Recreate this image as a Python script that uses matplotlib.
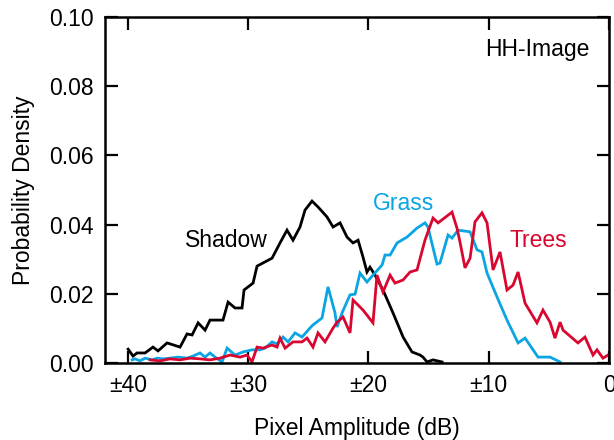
import matplotlib
matplotlib.use("Agg")
import matplotlib.pyplot as plt

plt.rcParams['font.family'] = ['Liberation Sans', 'DejaVu Sans']

shadow_x = [-39.98, -39.57, -39.24, -38.57, -37.91, -37.49, -36.74, -35.66, -35.08, -34.66,
            -34.16, -33.58, -33.17, -32.09, -31.67, -31.09, -30.51, -30.34, -29.59, -29.26,
            -28.01, -27.35, -26.77, -26.27, -25.69, -25.27, -24.69, -24.19, -23.44, -22.94,
            -22.36, -21.78, -21.28, -20.86, -20.45, -20.12, -19.87, -19.45, -18.79, -17.96,
            -17.12, -16.38, -15.71, -15.46, -15.13, -14.63, -13.88]
shadow_y = [0.0040, 0.0020, 0.0029, 0.0029, 0.0046, 0.0035, 0.0058, 0.0046, 0.0084, 0.0081,
            0.0116, 0.0095, 0.0124, 0.0124, 0.0176, 0.0159, 0.0159, 0.0211, 0.0231, 0.0280,
            0.0303, 0.0347, 0.0384, 0.0355, 0.0393, 0.0442, 0.0468, 0.0451, 0.0422, 0.0393,
            0.0405, 0.0364, 0.0347, 0.0355, 0.0306, 0.0263, 0.0277, 0.0254, 0.0211, 0.0145,
            0.0075, 0.0032, 0.0023, 0.0017, 0.0003, 0.0009, 0.0003]

grass_x = [-39.65, -39.40, -38.99, -38.57, -37.99, -37.57, -37.07, -36.49, -35.83, -35.08,
           -34.58, -34.00, -33.58, -33.17, -32.75, -32.17, -31.75, -31.09, -30.42, -29.68,
           -29.01, -28.60, -28.01, -27.60, -27.10, -26.68, -26.10, -25.52, -24.86, -24.61,
           -23.86, -23.36, -22.78, -22.61, -22.19, -21.53, -21.11, -20.70, -20.12, -19.62,
           -18.87, -18.62, -18.20, -17.62, -16.79, -15.96, -15.30, -15.05, -14.30, -14.05,
           -13.38, -13.05, -12.55, -12.14, -11.55, -10.97, -10.56, -10.14, -9.31, -8.48,
           -7.56, -6.98, -5.90, -4.90, -4.07]
grass_y = [0.0009, 0.0012, 0.0006, 0.0014, 0.0009, 0.0014, 0.0012, 0.0014, 0.0017, 0.0014,
           0.0020, 0.0029, 0.0017, 0.0029, 0.0017, 0.0003, 0.0043, 0.0023, 0.0032, 0.0038,
           0.0038, 0.0043, 0.0061, 0.0055, 0.0075, 0.0061, 0.0087, 0.0075, 0.0101, 0.0110,
           0.0130, 0.0220, 0.0145, 0.0104, 0.0145, 0.0197, 0.0199, 0.0260, 0.0234, 0.0254,
           0.0283, 0.0312, 0.0312, 0.0347, 0.0364, 0.0390, 0.0405, 0.0393, 0.0286, 0.0289,
           0.0370, 0.0361, 0.0384, 0.0382, 0.0379, 0.0327, 0.0321, 0.0260, 0.0191, 0.0124,
           0.0058, 0.0072, 0.0017, 0.0017, 0.0003]

trees_x = [-38.15, -37.32, -36.49, -35.66, -34.83, -34.00, -33.17, -32.34, -31.50, -30.67,
           -30.09, -29.68, -29.26, -28.76, -28.01, -27.60, -27.35, -26.93, -26.27, -25.52,
           -25.10, -24.61, -24.19, -23.61, -22.94, -22.61, -22.11, -21.53, -21.28, -20.45,
           -19.62, -19.29, -18.79, -18.20, -17.79, -17.12, -16.54, -15.96, -15.30, -14.63,
           -14.21, -13.05, -12.64, -12.39, -11.97, -11.55, -11.14, -10.56, -10.14, -9.64,
           -9.06, -8.48, -7.98, -7.56, -6.98, -5.99, -5.49, -4.90, -4.49, -4.07,
           -3.82, -2.58, -2.00, -1.33, -1.00, -0.50, -0.08]
trees_y = [0.0009, 0.0006, 0.0012, 0.0009, 0.0014, 0.0012, 0.0009, 0.0014, 0.0023, 0.0017,
           0.0023, 0.0003, 0.0046, 0.0043, 0.0052, 0.0046, 0.0072, 0.0043, 0.0061, 0.0061,
           0.0072, 0.0046, 0.0087, 0.0061, 0.0101, 0.0118, 0.0133, 0.0087, 0.0182, 0.0153,
           0.0116, 0.0254, 0.0205, 0.0254, 0.0231, 0.0240, 0.0263, 0.0269, 0.0355, 0.0419,
           0.0405, 0.0436, 0.0390, 0.0350, 0.0275, 0.0303, 0.0408, 0.0434, 0.0405, 0.0269,
           0.0321, 0.0211, 0.0225, 0.0263, 0.0173, 0.0116, 0.0153, 0.0118, 0.0072, 0.0118,
           0.0095, 0.0058, 0.0075, 0.0023, 0.0038, 0.0014, 0.0023]

x_ticks = [-40, -30, -20, -10, 0]
x_tick_labels = ['±40', '±30', '±20', '±10', '0']
y_ticks = [0.00, 0.02, 0.04, 0.06, 0.08, 0.10]

c_black = '#000000'
c_blue = '#0aa5e2'
c_red = '#d9062f'

fig = plt.figure(figsize=(6.14, 4.40), dpi=100)
ax = fig.add_axes([105/614, 77/440, 504/614, 346/440])

lw = 2.0
ax.plot(shadow_x, shadow_y, color=c_black, lw=lw, solid_joinstyle='miter')
ax.plot(grass_x, grass_y, color=c_blue, lw=lw, solid_joinstyle='miter')
ax.plot(trees_x, trees_y, color=c_red, lw=lw, solid_joinstyle='miter')

ax.set_xlim(-41.9, 0)
ax.set_ylim(0, 0.10)
ax.set_xticks(x_ticks)
ax.set_xticklabels(x_tick_labels)
ax.set_yticks(y_ticks)
ax.set_yticklabels([f'{v:.2f}' for v in y_ticks])

fs = 16.5
ax.tick_params(direction='in', length=9, width=1.6, top=True, right=True,
               labelsize=fs, pad=8)
for s in ax.spines.values():
    s.set_linewidth(1.8)

ax.set_xlabel('Pixel Amplitude (dB)', fontsize=fs, labelpad=14)
ax.set_ylabel('Probability Density', fontsize=fs, labelpad=10)

ax.text(-31.8, 0.0355, 'Shadow', color=c_black, fontsize=fs, ha='center', va='center')
ax.text(-17.1, 0.0460, 'Grass', color=c_blue, fontsize=fs, ha='center', va='center')
ax.text(-5.9, 0.0355, 'Trees', color=c_red, fontsize=fs, ha='center', va='center')
ax.text(-1.6, 0.0905, 'HH-Image', color=c_black, fontsize=fs, ha='right', va='center')

fig.savefig('out.png', dpi=100)
